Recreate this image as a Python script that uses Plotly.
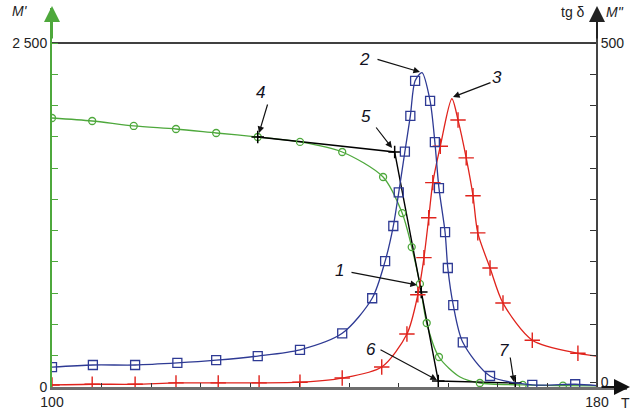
import plotly.graph_objects as go

# ---------------- data ----------------
# Green curve M' (left axis)
green_T = [100, 105.9, 112.0, 118.2, 124.1, 130.2, 136.4, 142.6, 148.6, 151.4, 152.8, 154.0, 155.0, 156.8, 159.9, 162.8, 169.1, 175.0, 180]
green_M = [1955, 1933, 1897, 1875, 1846, 1817, 1781, 1708, 1526, 1264, 1017, 749, 465, 218, 73, 29, 15, 10, 8]
green_mk_T = [100, 105.9, 112.0, 118.2, 124.1, 130.2, 136.4, 142.6, 148.6, 151.4, 152.8, 154.0, 155.0, 156.8, 162.8, 169.1, 175.0]
green_mk_M = [1955, 1933, 1897, 1875, 1846, 1817, 1781, 1708, 1526, 1264, 1017, 749, 465, 218, 29, 15, 10]

# Blue curve M'' (right axis)
blue_T = [100, 106.0, 112.2, 118.4, 124.1, 130.2, 136.4, 142.6, 147.0, 148.9, 150.1, 150.9, 151.8, 152.6, 153.3, 154.3, 155.5, 156.2, 156.8, 157.7, 158.1, 158.9, 160.3, 164.3, 170.5, 176.8, 180]
blue_R = [29, 32, 32, 35, 39, 45, 54, 78, 129, 183, 234, 283, 342, 394, 445, 457, 416, 356, 289, 225, 173, 119, 65, 16, 3, 4, 2]
blue_mk_T = [100, 106.0, 112.2, 118.4, 124.1, 130.2, 136.4, 142.6, 147.0, 148.9, 150.1, 150.9, 151.8, 152.6, 153.3, 155.5, 156.2, 156.8, 157.7, 158.1, 158.9, 160.3, 164.3, 170.5, 176.8]
blue_mk_R = [29, 32, 32, 35, 39, 45, 54, 78, 129, 183, 234, 283, 342, 394, 445, 416, 356, 289, 225, 173, 119, 65, 16, 3, 4]

# Red curve tg delta (right axis)
red_T = [100, 105.9, 112.2, 118.2, 124.4, 130.4, 136.4, 142.6, 148.4, 152.1, 153.7, 154.6, 155.3, 155.9, 157.0, 158.7, 159.6, 160.8, 161.8, 162.5, 164.3, 166.2, 170.5, 177.2, 180]
red_R = [3, 4, 4, 6, 6, 6, 7, 13, 29, 77, 134, 188, 246, 297, 350, 419, 388, 333, 278, 224, 173, 122, 68, 49, 45]
red_mk_T = [100, 105.9, 112.2, 118.2, 124.4, 130.4, 136.4, 142.6, 148.4, 152.1, 153.7, 154.6, 155.3, 155.9, 157.0, 159.6, 160.8, 161.8, 162.5, 164.3, 166.2, 170.5, 177.2]
red_mk_R = [3, 4, 4, 6, 6, 6, 7, 13, 29, 77, 134, 188, 246, 297, 350, 388, 333, 278, 224, 173, 122, 68, 49]

# Construction (tangent) points, left-axis units
tan_T = [130.2, 150.3, 156.7, 168.0]
tan_M = [1817, 1708, 44, 29]
point1_T = [154.2]
point1_M = [690]

label_names = ["1", "2", "3", "4", "5", "6", "7"]
x_ticks_labels = {0: "100", 11: "180"}

# ---------------- geometry helpers ----------------
W, H = 637, 413
L, R, T, B = 52, 10, 8, 26
PW, PH = W - L - R, H - T - B
X0, X1 = 100, 180
PX_X1 = 597
PX_Y0, PX_2500 = 387, 43
xr = [X0, X0 + (X1 - X0) * PW / (PX_X1 - L)]
yr_left = [0, 2500 * PH / (PX_Y0 - PX_2500)]
yr_right = [0, 500 * PH / (PX_Y0 - PX_2500)]


def px2d(px, py):
    return (X0 + (px - L) * (X1 - X0) / (PX_X1 - L),
            (PX_Y0 - py) * 2500 / (PX_Y0 - PX_2500))


def px2paper(px, py):
    return ((px - L) / PW, (H - B - py) / PH)


GREEN = "#4ea83c"
BLUE = "#2e3a94"
RED = "#e0231c"
TXT = "#222222"
FONT = "Liberation Sans, Arial, sans-serif"

fig = go.Figure()

# curves
fig.add_trace(go.Scatter(x=red_T, y=red_R, yaxis="y2", mode="lines",
                         line=dict(color=RED, width=1.3, shape="spline", smoothing=0.8), hoverinfo="skip"))
fig.add_trace(go.Scatter(x=blue_T, y=blue_R, yaxis="y2", mode="lines",
                         line=dict(color=BLUE, width=1.3, shape="spline", smoothing=0.8), hoverinfo="skip"))
fig.add_trace(go.Scatter(x=green_T, y=green_M, mode="lines",
                         line=dict(color=GREEN, width=1.3, shape="spline", smoothing=0.8), hoverinfo="skip"))

# 2500 line
fig.add_trace(go.Scatter(x=[X0, X1], y=[2500, 2500], mode="lines",
                         line=dict(color="black", width=1.5), hoverinfo="skip"))
# tangent lines
fig.add_trace(go.Scatter(x=tan_T, y=tan_M, mode="lines",
                         line=dict(color="black", width=1.4), hoverinfo="skip"))

# markers
fig.add_trace(go.Scatter(x=red_mk_T, y=red_mk_R, yaxis="y2", mode="markers",
                         marker=dict(symbol="cross-thin-open", size=11, color=RED,
                                     line=dict(color=RED, width=1.4)), hoverinfo="skip"))
fig.add_trace(go.Scatter(x=blue_mk_T, y=blue_mk_R, yaxis="y2", mode="markers",
                         marker=dict(symbol="square-open", size=9, color=BLUE,
                                     line=dict(color=BLUE, width=1.3)), hoverinfo="skip"))
fig.add_trace(go.Scatter(x=green_mk_T, y=green_mk_M, mode="markers",
                         marker=dict(symbol="circle-open", size=7, color=GREEN,
                                     line=dict(color=GREEN, width=1.3)), hoverinfo="skip"))
fig.add_trace(go.Scatter(x=tan_T + point1_T, y=tan_M + point1_M, mode="markers",
                         marker=dict(symbol="cross-thin-open", size=9, color="black",
                                     line=dict(color="black", width=1.5)), hoverinfo="skip"))

annotations = []
# numbered labels with arrows (pixel geometry: label center, tail, head)
label_geo = {
    "1": ((339, 270), (350, 272), (417, 285)),
    "2": ((364, 59), (376, 59), (420, 72)),
    "3": ((497, 77), (492, 82), (453, 97)),
    "4": ((260, 92), (268, 103), (259, 133)),
    "5": ((366, 117), (375, 126), (392, 148)),
    "6": ((371, 349), (379, 349), (437, 380)),
    "7": ((504, 350), (510, 356), (514, 382)),
}
for name in label_names:
    (lx, ly), (tx, ty), (hx, hy) = label_geo[name]
    hxd, hyd = px2d(hx, hy)
    annotations.append(dict(x=hxd, y=hyd, ax=tx - hx, ay=ty - hy, xref="x", yref="y",
                            text="", showarrow=True, arrowhead=2, arrowsize=1.1, arrowwidth=1.2,
                            arrowcolor="#111111", standoff=0))
    pxp, pyp = px2paper(lx, ly)
    annotations.append(dict(x=pxp, y=pyp, xref="paper", yref="paper", text="<i>" + name + "</i>",
                            showarrow=False, font=dict(size=17, color="#111122", family=FONT),
                            xanchor="center", yanchor="middle"))


# axis arrows
def arrow(tip, tail, color):
    a = px2paper(*tip)
    return dict(x=a[0], y=a[1], ax=tail[0] - tip[0], ay=tail[1] - tip[1], xref="paper", yref="paper",
                text="", showarrow=True, arrowhead=2, arrowsize=1.6, arrowwidth=2, arrowcolor=color, standoff=0)


annotations.append(arrow((52, 6), (52, 40), GREEN))
annotations.append(arrow((597, 6), (597, 40), "#222222"))
annotations.append(arrow((630, 387), (600, 387), "#111111"))

# axis titles
for txt, (px, py), anchor in [("<i>M'</i>", (30, 11), "right"), ("tg δ", (587, 12), "right"),
                               ("<i>M''</i>", (604, 12), "left"), ("T", (619, 403), "left")]:
    pxp, pyp = px2paper(px, py)
    annotations.append(dict(x=pxp, y=pyp, xref="paper", yref="paper", text=txt, showarrow=False,
                            font=dict(size=14, color=TXT, family=FONT), xanchor=anchor, yanchor="middle"))

xtickvals = [X0 + k * (X1 - X0) / 11 for k in range(12)]
xticktext = [x_ticks_labels.get(k, "") for k in range(12)]
ytickvals = [k * 2500 / 11 for k in range(12)]
yticktext = ["0"] + [""] * 10 + ["2 500"]
y2tickvals = [7] + [k * 500 / 11 for k in range(1, 12)]
y2ticktext = ["0"] + [""] * 10 + ["500"]

fig.update_layout(
    width=W, height=H,
    margin=dict(l=L, r=R, t=T, b=B, autoexpand=False),
    paper_bgcolor="white", plot_bgcolor="white",
    showlegend=False,
    font=dict(family=FONT, size=14, color=TXT),
    xaxis=dict(range=xr, showgrid=False, zeroline=False, showline=True, linecolor="#6e6e6e", linewidth=3,
               tickvals=xtickvals, ticktext=xticktext, ticks="inside", ticklen=4, tickcolor="#333333",
               tickwidth=1.2, tickfont=dict(size=14, color=TXT), fixedrange=True),
    yaxis=dict(range=yr_left, showgrid=False, zeroline=False, showline=True, linecolor=GREEN, linewidth=2,
               tickvals=ytickvals, ticktext=yticktext, ticks="inside", ticklen=6, tickcolor=GREEN,
               tickwidth=1.3, tickfont=dict(size=14, color=TXT), fixedrange=True),
    yaxis2=dict(range=yr_right, overlaying="y", side="right", anchor="free", position=(PX_X1 - L) / PW,
                showgrid=False, zeroline=False, showline=True, linecolor="#444444", linewidth=2,
                tickvals=y2tickvals, ticktext=y2ticktext, ticks="inside", ticklen=6, tickcolor="#333333",
                tickwidth=1.3, tickfont=dict(size=14, color=TXT), fixedrange=True),
    annotations=annotations,
)

fig.write_html("out.html", config={"displayModeBar": False},
               post_script="document.body.style.margin='0';document.body.style.overflow='hidden';")
